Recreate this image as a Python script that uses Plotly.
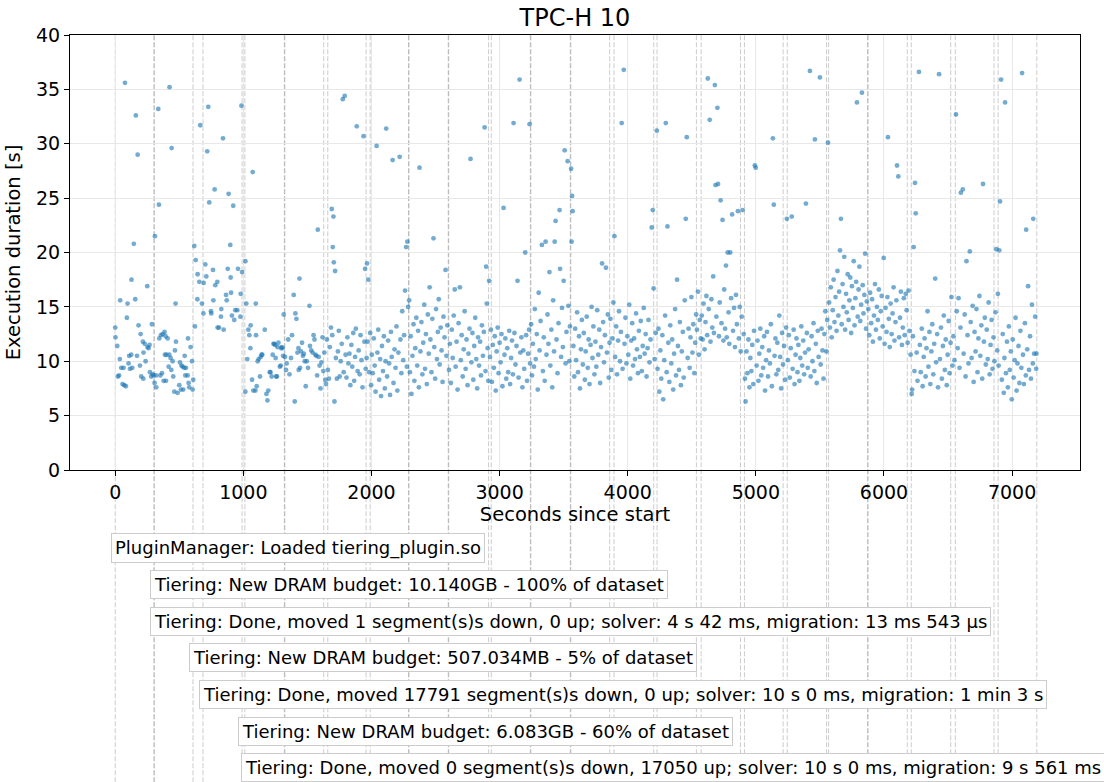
import plotly.graph_objects as go

# (seconds since start, execution duration [s]) grouped by tiering phase
phase_01 = [(0,13.1),(2,12.2),(16,11.4),(21,8.6),(30,8.7),(36,10.2),(39,15.6),(47,9.4),(57,7.9),(65,9.4),(70,7.8),(76,35.6),(83,7.7),(91,14.0),(96,15.3),(104,9.8),(109,10.5),(115,9.3),(125,10.6),(127,17.5),(133,9.4),(145,20.8),(156,15.7),(161,32.6),(170,10.5),(175,29.0),(182,13.3),(193,9.6),(198,12.5),(203,8.6),(216,11.8),(219,8.4),(221,10.8),(230,11.6),(237,10.0),(250,16.9),(252,11.3),(260,11.2),(268,11.5),(271,9.0),(281,8.6),(286,13.4),(292,8.8),(300,8.7)]
phase_02 = [(307,8.0),(310,21.5),(318,8.7),(320,7.6),(336,33.2),(341,24.4),(344,12.1),(352,8.7),(357,12.4),(365,8.9),(370,12.5),(378,8.2),(385,12.7),(388,10.6),(393,12.3),(396,8.2),(400,10.6),(409,12.1),(417,9.5),(422,10.6),(424,35.2),(432,10.3),(438,9.2),(440,29.6),(448,10.0),(453,8.6),(461,7.2),(466,11.0),(471,15.3),(474,11.8),(487,7.1),(500,7.8),(505,9.9),(513,7.4),(517,9.6),(526,9.5),(531,7.4),(539,9.4),(542,10.5),(547,8.7),(552,9.4),(565,8.7),(568,12.1),(573,8.0),(578,7.6),(588,11.3),(599,10.0),(604,7.4)]
phase_03 = [(609,8.3),(617,20.6),(622,13.2),(628,19.3),(641,15.7),(643,18.0),(656,17.3),(664,31.7),(677,15.3),(688,14.4),(690,17.2),(703,18.9),(711,17.8),(718,29.3),(726,33.4),(734,24.6),(747,14.6),(750,14.4),(763,18.4),(766,15.6),(776,25.8),(781,17.0),(797,17.3),(799,13.1),(810,13.1),(825,14.1),(828,14.8),(841,30.5),(846,12.9),(865,16.1),(870,15.6),(878,18.5),(885,25.4),(898,20.7),(901,17.7),(904,16.3),(911,14.2),(921,24.3),(929,13.8),(937,14.7),(953,14.7),(958,18.5),(977,14.1),(979,16.2),(985,33.5),(990,18.2)]
phase_04 = [(1016,7.2),(1016,19.2),(1023,15.3),(1031,10.2),(1039,12.9),(1047,12.4),(1055,11.2),(1057,13.3),(1068,8.3),(1073,27.4),(1078,7.3),(1094,7.3),(1097,15.3),(1099,12.4),(1104,7.7),(1112,10.0),(1120,10.2),(1130,8.6),(1135,10.4),(1142,10.6),(1148,10.6),(1167,12.9),(1180,7.0),(1188,6.4),(1195,7.3),(1206,9.0),(1212,9.0),(1221,8.6),(1229,10.6),(1235,11.6),(1242,11.6),(1248,11.5),(1252,10.3),(1256,8.6),(1262,8.6),(1266,11.3),(1274,11.7),(1285,9.5),(1292,9.6),(1294,11.2),(1300,11.3),(1306,11.2),(1310,10.5),(1315,14.3)]
phase_05 = [(1325,10.4),(1333,9.2),(1338,9.8),(1350,12.0),(1360,8.8),(1372,10.3),(1380,12.4),(1393,16.1),(1401,6.3),(1406,14.4),(1414,13.9),(1422,10.8),(1430,11.2),(1432,9.2),(1438,17.6),(1443,9.4),(1450,10.9),(1458,11.7),(1465,10.5),(1472,10.7),(1479,10.0),(1487,7.7),(1495,10.0),(1505,9.4),(1516,15.1),(1520,11.4),(1530,11.0),(1540,10.8),(1548,12.4),(1555,12.0),(1562,10.6),(1570,10.5),(1576,8.7),(1581,22.1),(1588,10.4),(1595,9.6),(1602,7.5),(1610,9.9),(1618,12.2),(1624,9.1)]
phase_06 = [(1632,10.8),(1640,8.3),(1645,7.9),(1652,12.0),(1660,9.2),(1668,8.4),(1675,11.3),(1684,13.1),(1690,24.0),(1694,12.4),(1698,20.5),(1703,23.3),(1706,19.1),(1711,6.3),(1716,18.3),(1722,10.3),(1730,8.4),(1738,10.9),(1745,12.8),(1752,8.6),(1760,10.0),(1768,11.6),(1776,34.1),(1783,9.0),(1791,34.4),(1798,10.6),(1805,8.5),(1812,12.2),(1820,9.8),(1828,10.7),(1835,7.8),(1843,11.5),(1850,9.5),(1858,12.6),(1865,8.2),(1872,10.4),(1878,13.0),(1885,31.6),(1892,9.1),(1900,11.0),(1908,8.8),(1915,12.4),(1922,10.1),(1930,7.6),(1938,30.7),(1945,11.8),(1950,18.5),(1955,9.3)]
phase_07 = [(1962,10.3),(1965,19.0),(1970,11.8),(1975,17.5),(1982,9.0),(1990,12.6),(1997,7.8),(2003,10.6),(2010,8.9),(2018,12.1),(2025,9.6),(2032,7.2),(2040,29.8),(2046,10.8),(2053,12.9),(2060,8.3),(2068,10.2),(2075,6.8),(2082,11.4),(2090,9.1),(2097,12.3),(2104,7.5),(2110,10.0),(2115,31.4),(2122,8.6),(2130,11.9),(2138,9.8),(2145,6.9),(2152,12.7),(2158,10.4),(2165,28.5),(2172,8.0),(2180,11.1),(2188,9.4),(2195,13.2),(2202,7.3),(2210,10.8),(2220,28.8),(2226,12.0),(2233,8.9),(2240,14.6),(2248,10.1),(2255,12.4),(2262,16.5),(2270,20.5),(2276,9.5),(2280,21.0),(2286,15.0)]
phase_08 = [(2294,15.6),(2300,9.0),(2306,12.3),(2312,7.0),(2320,10.5),(2328,13.4),(2335,8.2),(2342,11.2),(2350,14.0),(2357,9.6),(2364,12.8),(2370,7.6),(2375,27.8),(2382,10.9),(2390,13.6),(2397,8.8),(2404,11.7),(2412,15.2),(2418,9.3),(2425,12.5),(2432,7.9),(2440,14.3),(2447,10.7),(2454,16.8),(2460,12.0),(2468,9.0),(2475,13.9),(2484,21.3),(2490,11.3),(2497,8.4),(2504,14.8),(2511,10.2),(2518,12.7),(2525,15.7),(2532,9.7),(2540,13.1),(2547,11.0),(2555,8.1),(2562,14.1),(2570,12.2),(2578,18.4),(2585,10.5),(2592,13.3)]
phase_09 = [(2605,9.2),(2612,11.6),(2620,8.0),(2627,12.9),(2634,10.3),(2642,14.2),(2650,16.6),(2657,9.5),(2664,11.8),(2672,7.4),(2680,13.5),(2690,16.8),(2697,10.1),(2704,12.4),(2712,8.6),(2720,11.1),(2727,14.6),(2735,9.3),(2742,12.0),(2750,7.8),(2757,10.7),(2765,13.0),(2773,28.6),(2780,9.9),(2788,12.6),(2795,8.3),(2802,11.4),(2810,14.0),(2818,10.2),(2825,7.5),(2832,12.2),(2840,9.6),(2848,11.8),(2855,8.7),(2862,13.3),(2870,10.5),(2877,12.7),(2883,31.5),(2890,9.1),(2895,18.7),(2900,15.3),(2907,11.2),(2912,8.2)]
phase_10 = [(2918,17.4),(2925,10.4),(2932,12.9),(2940,8.1),(2947,11.5),(2955,9.4),(2962,12.3),(2970,7.3),(2977,10.9),(2985,13.1),(2992,8.9),(3000,11.7),(3008,9.9),(3015,12.5),(3022,7.7),(3031,24.1),(3038,10.6),(3045,12.1),(3052,8.4),(3060,11.2),(3067,9.0),(3075,12.8),(3082,7.9),(3090,10.3),(3097,11.9),(3104,8.8),(3109,31.9),(3116,12.6),(3124,9.7),(3132,11.4),(3140,17.4),(3148,8.5),(3156,35.9),(3162,10.8),(3170,12.2),(3178,7.6),(3185,11.0),(3192,9.3),(3200,20.0),(3207,12.4),(3214,8.2),(3222,10.7),(3230,12.9),(3234,31.8),(3238,9.8)]
phase_11 = [(3246,13.4),(3253,8.7),(3260,11.6),(3268,9.5),(3275,14.8),(3282,10.2),(3290,12.5),(3298,7.4),(3305,16.3),(3312,11.0),(3320,13.7),(3330,20.7),(3338,9.1),(3345,12.2),(3352,8.2),(3359,21.0),(3366,10.6),(3374,14.3),(3381,11.6),(3389,18.2),(3396,9.6),(3404,12.9),(3411,7.6),(3418,15.6),(3425,10.9),(3430,21.0),(3437,22.9),(3444,12.0),(3452,8.9),(3460,13.5),(3468,23.9),(3472,18.5),(3480,10.4),(3487,14.9),(3494,11.3),(3500,17.4),(3508,29.4),(3515,9.8),(3522,12.7),(3531,28.4),(3537,15.1),(3544,10.0),(3549,13.2)]
phase_12 = [(3558,27.7),(3562,21.0),(3566,25.2),(3570,23.8),(3576,11.4),(3583,8.6),(3590,13.0),(3597,10.1),(3605,14.5),(3612,9.0),(3620,12.3),(3627,7.5),(3635,11.1),(3642,13.8),(3650,9.7),(3657,12.6),(3665,8.3),(3672,10.9),(3680,14.1),(3688,9.4),(3695,12.0),(3702,7.9),(3710,11.5),(3718,15.0),(3725,10.3),(3732,13.2),(3740,8.8),(3748,11.8),(3755,9.5),(3762,14.7),(3770,10.6),(3778,12.9),(3785,8.0),(3792,11.3),(3800,19.0),(3808,13.6),(3815,9.9),(3822,12.4),(3830,18.6),(3838,10.8),(3845,14.3),(3852,8.5),(3858,11.7),(3865,13.9),(3872,9.2),(3880,12.1),(3888,15.4)]
phase_13 = [(3896,21.5),(3902,10.4),(3910,13.2),(3917,8.8),(3925,11.9),(3932,14.6),(3940,10.0),(3947,12.7),(3953,31.9),(3960,9.3),(3969,36.8),(3975,11.6),(3982,14.0),(3990,9.8),(3997,12.3),(4005,10.6),(4012,15.2),(4020,8.4),(4027,11.9),(4035,13.5),(4042,9.6),(4050,12.1),(4057,10.2),(4065,14.4),(4072,11.1),(4080,8.9),(4087,12.8),(4095,10.4),(4102,13.7),(4110,9.1),(4117,11.4),(4125,14.9),(4132,10.7),(4140,12.5),(4147,8.6),(4155,11.2),(4162,13.8),(4170,9.9),(4178,12.0),(4187,22.3),(4195,23.9),(4202,16.7),(4210,10.2),(4218,12.6),(4227,31.2)]
phase_14 = [(4233,9.3),(4240,13.0),(4247,7.2),(4255,11.0),(4262,8.4),(4270,12.4),(4277,6.5),(4285,10.1),(4292,14.2),(4297,31.9),(4304,9.0),(4310,22.4),(4317,11.7),(4325,8.1),(4332,13.3),(4340,9.8),(4347,12.0),(4355,7.4),(4362,10.7),(4370,14.8),(4377,8.7),(4385,17.5),(4392,11.4),(4400,9.2),(4407,13.6),(4415,7.8),(4422,10.9),(4430,12.7),(4437,8.5),(4445,15.6),(4453,23.1),(4461,30.6),(4468,10.3),(4475,13.0),(4483,9.4),(4490,12.2),(4497,15.9),(4505,10.8),(4512,13.4),(4520,8.9),(4527,11.7),(4534,14.3),(4540,12.9),(4548,16.4),(4555,10.6),(4562,13.8),(4570,12.1)]
phase_15 = [(4578,14.2),(4585,12.0),(4592,15.3),(4600,11.1),(4607,13.6),(4614,16.0),(4620,12.4),(4625,36.0),(4632,14.8),(4640,32.2),(4646,11.8),(4653,15.7),(4660,13.1),(4667,17.8),(4673,12.6),(4680,35.4),(4685,26.2),(4692,14.1),(4700,33.3),(4705,26.3),(4712,12.3),(4718,15.4),(4725,24.8),(4732,13.5),(4740,23.0),(4747,11.9),(4753,16.6),(4760,13.0),(4767,18.8),(4773,12.2),(4780,20.0),(4787,14.5),(4793,11.6),(4800,20.0),(4807,15.8),(4815,23.5),(4822,12.8),(4830,14.9),(4837,11.3),(4845,16.1),(4852,13.4),(4860,23.8),(4867,12.1),(4874,15.0),(4882,10.9),(4890,14.1),(4897,23.9),(4905,12.5)]
phase_16 = [(4915,8.4),(4920,6.3),(4927,10.9),(4934,8.9),(4942,12.0),(4950,7.6),(4957,10.3),(4965,9.1),(4972,11.5),(4980,7.9),(4986,12.8),(4992,28.0),(4999,27.8),(5006,9.6),(5013,11.9),(5020,8.2),(5027,10.7),(5035,13.0),(5042,8.7),(5050,11.3),(5057,9.4),(5065,12.3),(5072,7.3),(5080,10.1),(5087,12.7),(5095,8.6),(5102,11.0),(5110,9.8),(5117,13.4),(5125,7.7),(5133,30.5),(5140,24.4),(5146,10.5),(5153,12.1),(5160,8.8),(5168,11.7),(5175,9.2),(5183,14.2),(5190,10.4),(5197,7.5),(5205,12.6),(5212,9.7),(5220,11.4),(5228,8.3),(5236,13.1),(5242,23.1)]
phase_17 = [(5250,10.1),(5257,12.4),(5265,8.5),(5272,11.2),(5280,23.3),(5287,9.3),(5295,12.9),(5302,7.9),(5310,10.6),(5317,12.1),(5325,9.0),(5332,11.5),(5340,8.2),(5347,10.3),(5355,13.2),(5362,9.6),(5370,11.9),(5377,8.8),(5384,10.8),(5391,24.5),(5398,12.6),(5405,9.4),(5412,11.1),(5422,36.7),(5428,8.6),(5435,12.3),(5442,10.0),(5450,13.5),(5457,9.1),(5461,30.4),(5468,11.6),(5475,8.0),(5483,12.8),(5490,10.4),(5500,36.1),(5506,9.7),(5513,13.0),(5520,11.0),(5528,8.4),(5535,12.5),(5542,14.6),(5550,10.9),(5557,13.8),(5563,30.1)]
phase_18 = [(5572,15.4),(5578,13.1),(5585,16.8),(5592,12.2),(5600,14.7),(5607,17.5),(5614,13.6),(5622,15.9),(5630,12.8),(5637,18.3),(5644,14.2),(5650,16.4),(5657,20.2),(5664,23.1),(5670,13.4),(5677,17.1),(5684,15.0),(5690,19.6),(5697,12.9),(5704,16.2),(5710,14.5),(5717,18.0),(5724,13.8),(5730,15.6),(5737,17.7),(5744,12.6),(5750,16.9),(5757,14.9),(5764,19.2),(5770,13.3),(5777,15.8),(5783,17.3),(5789,33.8),(5795,14.1),(5802,16.6),(5808,18.7),(5815,13.7),(5822,15.2),(5828,34.7),(5834,17.0),(5840,14.4),(5847,16.1),(5853,19.9),(5860,13.0),(5866,15.5)]
phase_19 = [(5878,14.8),(5885,12.4),(5892,16.3),(5900,13.5),(5907,15.7),(5914,11.8),(5922,14.2),(5930,17.1),(5937,12.9),(5945,15.0),(5952,13.8),(5960,16.6),(5967,12.1),(5975,14.6),(5982,16.0),(5990,13.2),(5998,19.5),(6005,11.6),(6012,14.9),(6020,12.7),(6027,15.9),(6031,30.6),(6038,13.9),(6045,11.3),(6052,15.3),(6060,12.5),(6067,14.4),(6075,16.8),(6082,11.9),(6090,13.6),(6097,15.6),(6102,28.0),(6112,27.0),(6118,12.2),(6125,14.0),(6132,16.4),(6140,11.5),(6147,13.1),(6155,15.8),(6162,12.4),(6170,16.2),(6177,14.7),(6185,11.7),(6192,16.5),(6200,12.8),(6208,10.6)]
phase_20 = [(6216,7.0),(6220,7.4),(6226,12.3),(6232,20.5),(6238,9.1),(6242,26.4),(6248,23.6),(6255,10.8),(6262,8.2),(6273,36.6),(6280,11.5),(6287,9.0),(6295,13.0),(6302,7.7),(6310,10.4),(6317,12.1),(6325,8.6),(6332,11.2),(6340,14.6),(6347,9.5),(6355,12.7),(6362,7.9),(6370,10.9),(6377,13.4),(6385,8.8),(6392,11.6),(6400,17.6),(6407,9.9),(6415,12.5),(6422,7.6),(6430,36.4),(6437,10.2),(6445,13.1),(6452,8.4),(6460,11.4),(6467,14.2),(6475,9.2),(6482,12.0),(6490,7.8),(6497,10.6),(6505,13.7),(6512,8.9),(6520,11.7),(6527,15.9),(6535,9.6),(6542,12.3),(6550,10.1)]
phase_21 = [(6562,32.7),(6568,14.6),(6575,11.2),(6582,15.8),(6590,9.4),(6597,13.1),(6600,25.5),(6615,25.8),(6622,10.7),(6630,14.3),(6637,8.6),(6644,19.2),(6652,12.4),(6660,9.8),(6670,20.1),(6677,13.6),(6684,10.3),(6692,15.1),(6700,8.1),(6707,12.7),(6715,10.9),(6722,14.8),(6730,9.0),(6737,12.1),(6745,16.0),(6752,10.5),(6760,13.3),(6767,8.4),(6773,26.3),(6780,11.8),(6787,14.0),(6795,9.7),(6802,12.9),(6810,10.2),(6817,15.4),(6825,8.8),(6832,11.5),(6840,13.8),(6847,9.3),(6855,12.2),(6862,10.0),(6870,14.5),(6877,20.3),(6884,11.0),(6889,16.2)]
phase_22 = [(6895,9.6),(6900,20.2),(6906,24.7),(6914,35.9),(6920,8.3),(6927,12.5),(6935,7.1),(6940,10.3),(6945,33.8),(6952,8.9),(6960,11.8),(6967,7.6),(6975,13.2),(6982,9.2),(6990,10.9),(6997,6.5),(7005,12.0),(7012,8.5),(7020,10.1),(7027,14.0),(7035,7.3),(7042,9.8),(7050,11.4),(7057,8.0),(7065,12.8),(7072,9.4),(7078,36.5),(7085,10.6),(7092,7.9),(7100,13.5),(7107,8.7),(7110,22.1),(7118,11.1),(7125,16.9),(7132,9.2),(7140,12.3),(7147,8.4),(7155,15.2),(7162,9.8),(7165,23.1),(7172,10.7),(7180,14.1),(7188,9.3),(7190,10.7)]

phases = [phase_01, phase_02, phase_03, phase_04, phase_05, phase_06, phase_07, phase_08,
          phase_09, phase_10, phase_11, phase_12, phase_13, phase_14, phase_15, phase_16,
          phase_17, phase_18, phase_19, phase_20, phase_21, phase_22]
seconds = [t for p in phases for t, _ in p]
duration = [d for p in phases for _, d in p]

# log event times (vertical dashed lines)
event_times = [0, 302, 305, 607, 685, 990, 1012, 1320, 1324, 1627, 1659, 1958, 1990,
               2289, 2293, 2599, 2603, 2914, 2935, 3240, 3244, 3552, 3556, 3859, 3893,
               4203, 4229, 4536, 4573, 4880, 4911, 5213, 5245, 5552, 5568, 5872, 5876,
               6182, 6213, 6521, 6557, 6859, 6891, 7193]
event_labels = [
    "PluginManager: Loaded tiering_plugin.so",
    "Tiering: New DRAM budget: 10.140GB - 100% of dataset",
    "Tiering: Done, moved 1 segment(s)s down, 0 up; solver: 4 s 42 ms, migration: 13 ms 543 µs",
    "Tiering: New DRAM budget: 507.034MB - 5% of dataset",
    "Tiering: Done, moved 17791 segment(s)s down, 0 up; solver: 10 s 0 ms, migration: 1 min 3 s",
    "Tiering: New DRAM budget: 6.083GB - 60% of dataset",
    "Tiering: Done, moved 0 segment(s)s down, 17050 up; solver: 10 s 0 ms, migration: 9 s 561 ms",
]

FONT = "DejaVu Sans"

fig = go.Figure()
fig.add_trace(go.Scatter(
    x=seconds, y=duration, mode="markers",
    marker=dict(size=4.8, color="#1f77b4", opacity=0.62, line=dict(width=0)),
    showlegend=False, hoverinfo="x+y",
))

shapes = []
for t in event_times:
    shapes.append(dict(type="line", xref="x", yref="paper", x0=t, x1=t, y0=-0.75, y1=1,
                       line=dict(color="rgba(128,128,128,0.4)", width=1, dash="5px,2px"),
                       layer="below"))

annotations = []
for i, (t, label) in enumerate(zip(event_times, event_labels)):
    annotations.append(dict(
        x=t, xref="x", y=-0.179 - i * 0.0843, yref="paper",
        text=label, showarrow=False, xanchor="left", yanchor="middle", xshift=-4,
        font=dict(family=FONT, size=18, color="black"),
        bgcolor="white", bordercolor="#cccccc", borderwidth=1, borderpad=3,
    ))

fig.update_layout(
    width=1104, height=782,
    margin=dict(l=70, r=24, t=35, b=312),
    paper_bgcolor="white", plot_bgcolor="white",
    font=dict(family=FONT, size=19, color="black"),
    title=dict(text="TPC-H 10", x=0.5, xref="paper", y=1 - 18 / 782, yref="container",
               yanchor="middle", xanchor="center", font=dict(family=FONT, size=24, color="black")),
    shapes=shapes,
    annotations=annotations,
)
fig.update_xaxes(
    range=[-353, 7530], tickmode="array", tickvals=[0, 1000, 2000, 3000, 4000, 5000, 6000, 7000],
    showgrid=True, gridcolor="#e8e8e8", gridwidth=1, zeroline=False,
    showline=True, linecolor="black", linewidth=1, mirror=True,
    ticks="outside", ticklen=5, tickcolor="black", tickfont=dict(size=19),
    title=dict(text="Seconds since start", standoff=1, font=dict(size=19.5)),
)
fig.update_yaxes(
    range=[0, 40], tickmode="array", tickvals=[0, 5, 10, 15, 20, 25, 30, 35, 40],
    showgrid=True, gridcolor="#e8e8e8", gridwidth=1, zeroline=False,
    showline=True, linecolor="black", linewidth=1, mirror=True,
    ticks="outside", ticklen=5, tickcolor="black", tickfont=dict(size=19),
    title=dict(text="Execution duration [s]", standoff=10, font=dict(size=19.5)),
)

fig.write_html("out.html")
